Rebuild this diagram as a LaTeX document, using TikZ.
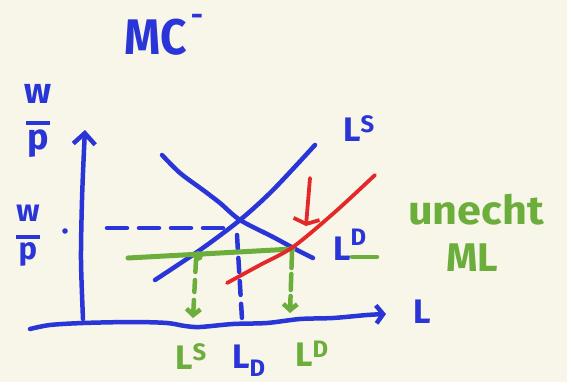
\documentclass[tikz,border=0pt]{standalone}
\usepackage{fontspec}
\setmainfont{Fira Sans}
\usetikzlibrary{arrows.meta}
\definecolor{bg}{HTML}{F8F5E9}
\definecolor{pblue}{HTML}{2A35D8}
\definecolor{pgreen}{HTML}{6CAE3C}
\definecolor{pred}{HTML}{E4282A}
\begin{document}
\begin{tikzpicture}[x=1pt,y=-1pt,
  pen/.style={line width=4.5pt,line cap=round,line join=round},
  bluepen/.style={pen,draw=pblue},
  greenpen/.style={pen,draw=pgreen},
  redpen/.style={pen,line width=3.8pt,draw=pred},
  lbl/.style={inner sep=0pt,font=\fontsize{34}{34}\selectfont\bfseries},
  bluelbl/.style={lbl,text=pblue},
  greenlbl/.style={lbl,text=pgreen},
]
\fill[bg] (0,0) rectangle (567,382);
\useasboundingbox (0,0) rectangle (567,382);

% title
\node[bluelbl,font=\fontsize{50}{50}\selectfont\bfseries] (title) at (156,37) {\scalebox{0.92}[1]{MC}};
\node[bluelbl,font=\fontsize{30}{30}\selectfont\bfseries] (titlesup) at (197,20) {-};

% axis labels
\node[bluelbl,align=center,font=\fontsize{36}{36}\selectfont\bfseries] (wp1) at (38,121) {w\\[-15pt]\rule{24pt}{4pt}\\[-11pt]p};
\node[bluelbl,align=center,font=\fontsize{31}{31}\selectfont\bfseries] (wp2) at (28,236) {w\\[-14pt]\rule{24pt}{4pt}\\[-10pt]p};
\fill[pblue] (65,231) circle (2.8pt);
\node[bluelbl] (xlab) at (422,312) {L};

% axes
\draw[bluepen,-{Straight Barb[length=11pt,width=22pt]}] plot[smooth] coordinates {(83,319) (81,260) (82,200) (84,150) (85,130)};
\draw[bluepen,-{Straight Barb[length=7pt,width=18pt]}] plot[smooth] coordinates {(30,329) (50,325) (83,323) (133,322) (167,323) (185,326) (200,327) (233,324) (267,323) (300,319) (333,318) (367,315) (386,314)};

% dashed helper lines
\draw[bluepen,dash pattern=on 20pt off 12pt] (107,228) -- (230,228);
\draw[bluepen,dash pattern=on 14pt off 9pt] (237,235) -- (242,319);

% supply and demand
\draw[bluepen] plot[smooth] coordinates {(155,280) (200,250) (240,220) (273,190) (315,145)};
\draw[bluepen] plot[smooth] coordinates {(162,155) (180,173) (203,190) (220,203) (240,220) (273,237) (297,250) (313,258)};

% green minimum wage line
\draw[greenpen,line width=5pt] (128,258) -- (293,249);
\fill[pgreen] (198,256) circle (5pt);
\draw[greenpen] (352,257) -- (377,257);

% green dashed arrows
\draw[greenpen,dash pattern=on 12pt off 8pt,-{Straight Barb[length=6pt,width=14pt]}] (196,260) -- (193,318);
\draw[greenpen,dash pattern=on 16pt off 6pt,-{Straight Barb[length=6pt,width=14pt]}] (292,252) -- (290,313);

% red line and red arrow
\draw[redpen] plot[smooth] coordinates {(227,283) (260,265) (293,247) (335,212) (375,175)};
\draw[redpen,-{Straight Barb[length=5pt,width=26pt]}] (310,178) -- (306,226);

% curve labels
\node[bluelbl] (LS) at (359,129) {L\textsuperscript{S}};
\node[bluelbl] (LD) at (350,245) {L\raisebox{6pt}{\textsuperscript{D}}};

% green note
\node[greenlbl,font=\fontsize{40}{40}\selectfont\bfseries] (note1) at (476,210) {\scalebox{1.08}[1]{unecht}};
\node[greenlbl,font=\fontsize{40}{40}\selectfont\bfseries] (note2) at (472,258) {ML};

% bottom labels
\node[greenlbl] (bLS) at (191,357) {L\textsuperscript{S}};
\node[bluelbl] (bLD) at (249,361) {L\textsubscript{D}};
\node[greenlbl] (bLDg) at (312,354) {L\textsuperscript{D}};
\end{tikzpicture}
\end{document}
